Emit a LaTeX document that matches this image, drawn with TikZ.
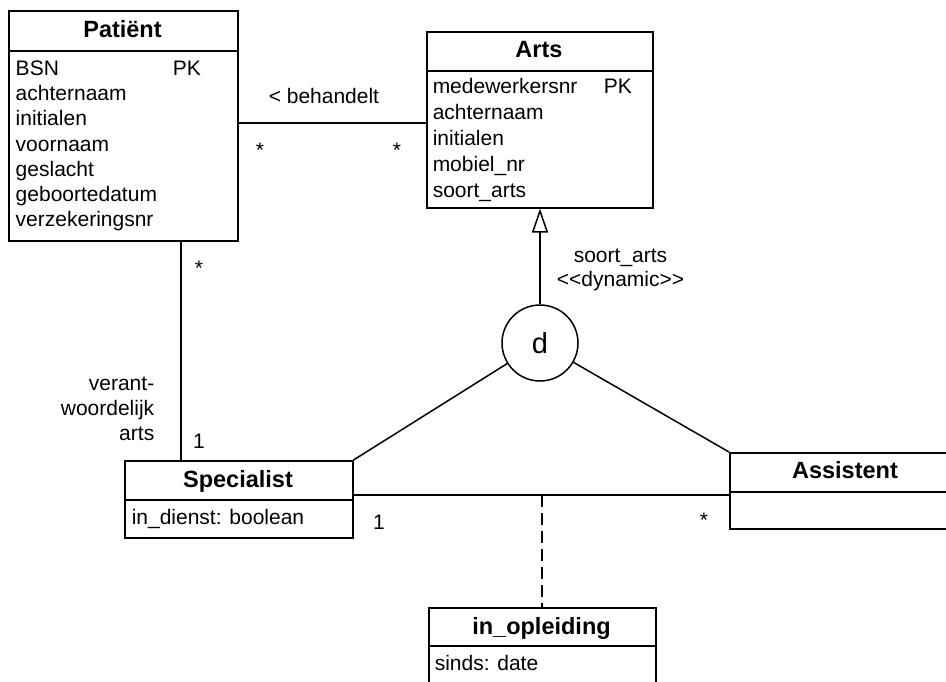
\documentclass[tikz,border=0pt]{standalone}
\usepackage{fontspec}
\setmainfont{Liberation Sans}
\usetikzlibrary{arrows.meta,calc}
\begin{document}
\begin{tikzpicture}[x=1pt,y=-1pt,line width=1.5pt,
  box/.style={draw,line width=1.5pt,inner sep=0pt,anchor=north west,fill=white},
  ttl/.style={font=\fontsize{23.5}{28}\selectfont\bfseries,anchor=base,inner sep=0pt},
  attr/.style={font=\fontsize{21}{25}\selectfont,anchor=base west,inner sep=0pt},
  lbl/.style={font=\fontsize{21}{25}\selectfont,anchor=base,inner sep=0pt},
  lblr/.style={font=\fontsize{21}{25}\selectfont,anchor=base east,inner sep=0pt},
  dashline/.style={line width=1.5pt,dash pattern=on 12pt off 6pt},
  gentip/.style={-{Triangle[open,width=16pt,length=24pt,line width=1.5pt]}}
  ]
\useasboundingbox (0,0) rectangle (946,681);
\clip (0,0) rectangle (946,681);
\fill[white] (0,0) rectangle (946,681);

% Patient
\node[box,minimum width=229pt,minimum height=40pt] (pathead) at (8,10) {};
\node[box,minimum width=229pt,minimum height=190pt] (patbody) at (8,50) {};
\node[ttl] (pattitle) at (122.5,37.5) {Patiënt};
\node[attr] (pa1) at (15,75) {BSN};
\node[attr] (papk) at (172,75) {PK};
\node[attr] (pa2) at (15,100.3) {achternaam};
\node[attr] (pa3) at (15,125.6) {initialen};
\node[attr] (pa4) at (15,151) {voornaam};
\node[attr] (pa5) at (15,176.2) {geslacht};
\node[attr] (pa6) at (15,201.5) {geboortedatum};
\node[attr] (pa7) at (15,226.8) {verzekeringsnr};

% Arts
\node[box,minimum width=226pt,minimum height=39pt] (artshead) at (426,31) {};
\node[box,minimum width=226pt,minimum height=137pt] (artsbody) at (426,70) {};
\node[ttl] (artstitle) at (539,57.5) {Arts};
\node[attr] (aa1) at (432,93.3) {medewerkersnr};
\node[attr] (aapk) at (603,93.3) {PK};
\node[attr] (aa2) at (432,119.3) {achternaam};
\node[attr] (aa3) at (432,145.3) {initialen};
\node[attr] (aa4) at (432,171.3) {mobiel\_nr};
\node[attr] (aa5) at (432,197.3) {soort\_arts};

% Specialist
\node[box,minimum width=228pt,minimum height=39pt] (spechead) at (124,460) {};
\node[box,minimum width=228pt,minimum height=38pt] (specbody) at (124,499) {};
\node[ttl] (spectitle) at (238,487) {Specialist};
\node[attr] (sa1) at (131,524.5) {in\_dienst: boolean};

% Assistent
\node[box,minimum width=250pt,minimum height=39pt] (asshead) at (729,452) {};
\node[box,minimum width=250pt,minimum height=37pt] (assbody) at (729,491) {};
\node[ttl] (asstitle) at (845,478) {Assistent};

% in_opleiding
\node[box,minimum width=227pt,minimum height=38pt] (ophead) at (428,607) {};
\node[box,minimum width=227pt,minimum height=60pt] (opbody) at (428,645) {};
\node[ttl] (optitle) at (541.5,634) {in\_opleiding};
\node[attr] (oa1) at (434,670) {sinds: date};

% discriminator
\node[circle,draw,line width=1.5pt,minimum size=76pt,inner sep=0pt,
      font=\fontsize{29}{32}\selectfont] (disc) at (540,343) {d};

% helper coordinates
\coordinate (behy) at (0,123);
\coordinate (psx) at (181,0);
\coordinate (hly) at (0,495);
\coordinate (dshx) at (542,0);

% connectors
\draw (patbody.east |- behy) -- (artsbody.west |- behy);
\draw (patbody.south -| psx) -- (spechead.north -| psx);
\draw[gentip] (disc.north) -- (artsbody.south -| disc);
\draw (disc) -- (spechead.north east);
\draw (disc) -- (asshead.north west);
\draw (specbody.north east |- hly) -- (assbody.north west |- hly);
\draw[dashline] (dshx |- hly) -- (ophead.north -| dshx);

% labels
\node[lbl,anchor=base west] (behlbl) at (268,103.3) {< behandelt};
\node[lbl] (m1) at (260,157) {*};
\node[lbl] (m2) at (397,157) {*};
\node[lbl] (m3) at (199,275) {*};
\node[lbl] (m4) at (199,448) {1};
\node[lbl] (m5) at (379,529) {1};
\node[lbl] (m6) at (704,527) {*};
\node[lblr] (r1) at (155,390) {verant-};
\node[lblr] (r2) at (155,415) {woordelijk};
\node[lblr] (r3) at (155,440) {arts};
\node[lbl] (g1) at (620.5,262.5) {soort\_arts};
\node[lbl] (g2) at (620.5,286.5) {{<}{<}dynamic{>}{>}};
\end{tikzpicture}
\end{document}
